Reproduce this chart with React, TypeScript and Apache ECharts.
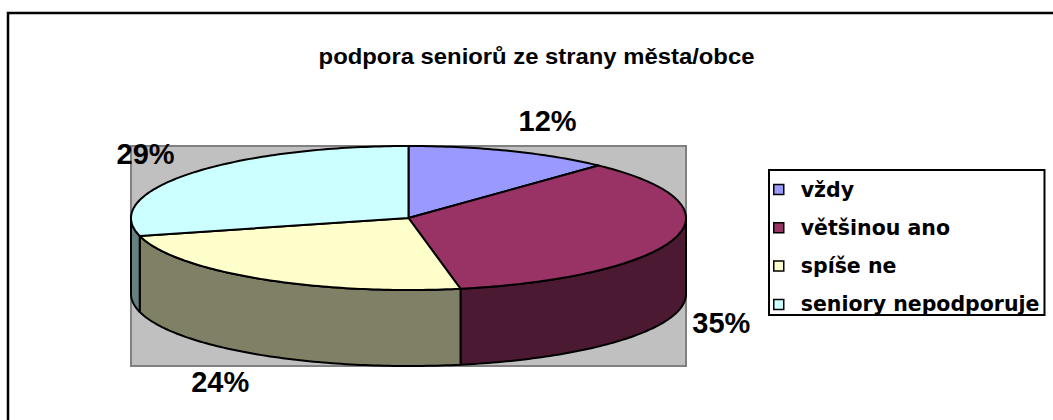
import React, { useEffect, useRef } from "react";
import * as echarts from "echarts";

const titleText = "podpora seniorů ze strany města/obce";
const categories = ["vždy", "většinou ano", "spíše ne", "seniory nepodporuje"];
const values = [12, 35, 24, 29];
const topColors = ["#9999FF", "#993366", "#FFFFCC", "#CCFFFF"];
const sideColors = ["#4C4C80", "#4C1933", "#808066", "#668080"];

// pie geometry (layout, px)
const CX = 408.5;
const CY = 218;
const RX = 277.5;
const RY = 72;
const DEPTH = 76;

const total = values.reduce((a, b) => a + b, 0);

function pt(deg: number, dy = 0): number[] {
  const r = (deg * Math.PI) / 180;
  return [CX + RX * Math.sin(r), CY - RY * Math.cos(r) + dy];
}

function arc(from: number, to: number, dy: number): number[][] {
  const n = Math.max(2, Math.ceil(to - from));
  const pts: number[][] = [];
  for (let k = 0; k <= n; k++) pts.push(pt(from + ((to - from) * k) / n, dy));
  return pts;
}

function renderSlice(i: number) {
  return (_params: any, _api: any) => {
    let start = 0;
    for (let j = 0; j < i; j++) start += values[j];
    const a0 = (start / total) * 360;
    const a1 = ((start + values[i]) / total) * 360;
    const children: any[] = [];
    const f0 = Math.max(a0, 90);
    const f1 = Math.min(a1, 270);
    if (f1 > f0) {
      const top = arc(f0, f1, 0);
      const bot = arc(f0, f1, DEPTH).reverse();
      children.push({
        type: "polygon",
        z2: 1,
        shape: { points: top.concat(bot) },
        style: { fill: sideColors[i], stroke: "#000", lineWidth: 2, lineJoin: "round" },
      });
    }
    children.push({
      type: "polygon",
      z2: 2,
      shape: { points: [[CX, CY]].concat(arc(a0, a1, 0)) },
      style: { fill: topColors[i], stroke: "#000", lineWidth: 2, lineJoin: "round" },
    });
    // label
    const mid = (a0 + a1) / 2;
    const r = (mid * Math.PI) / 180;
    const s = Math.sin(r);
    const c = Math.cos(r);
    const edge = pt(mid, c < 0 ? DEPTH : 0);
    const lx = edge[0] + 16 * s + 31 * Math.sign(s);
    const ly = edge[1] - 32 * c;
    children.push({
      type: "text",
      z2: 3,
      style: {
        text: Math.round((values[i] / total) * 100) + "%",
        x: lx,
        y: ly,
        align: "center",
        verticalAlign: "middle",
        fill: "#000",
        fontSize: 29,
        fontWeight: "bold",
        fontFamily: '"Liberation Sans", Arial, sans-serif',
      },
    });
    return { type: "group", children };
  };
}

export default function App() {
  const ref = useRef<HTMLDivElement>(null);
  useEffect(() => {
    if (!ref.current) return;
    const chart = echarts.init(ref.current, null, { renderer: "svg" });
    chart.setOption({
      animation: false,
      backgroundColor: "#fff",
      legend: {
        orient: "vertical",
        left: 769,
        top: 170,
        data: categories,
        icon: "rect",
        itemWidth: 10,
        itemHeight: 10,
        itemGap: 17.3,
        padding: [9, 5, 0, 4],
        borderColor: "#000",
        borderWidth: 2,
        backgroundColor: "#fff",
        selectedMode: false,
        itemStyle: { borderColor: "#000", borderWidth: 1.5 },
        textStyle: {
          color: "#000",
          fontSize: 20.5,
          fontWeight: "bold",
          fontFamily: '"DejaVu Sans", sans-serif',
          padding: [0, 0, 0, 12],
        },
      },
      graphic: [
        {
          type: "rect",
          z: 0,
          silent: true,
          shape: { x: 8, y: 13, width: 1100, height: 500 },
          style: { fill: "none", stroke: "#000", lineWidth: 2.5 },
        },
        {
          type: "rect",
          z: 0,
          silent: true,
          shape: { x: 131, y: 146, width: 555, height: 220 },
          style: { fill: "#C0C0C0", stroke: "#808080", lineWidth: 2 },
        },
        {
          type: "text",
          z: 5,
          x: 536.5,
          y: 56,
          scaleX: 1.06,
          silent: true,
          style: {
            text: titleText,
            x: 0,
            y: 0,
            align: "center",
            verticalAlign: "middle",
            fill: "#000",
            fontSize: 22.5,
            fontWeight: "bold",
            fontFamily: '"Liberation Sans", Arial, sans-serif',
          },
        },
      ],
      series: values.map((v, i) => ({
        type: "custom",
        name: categories[i],
        coordinateSystem: "none",
        z: 2,
        silent: true,
        itemStyle: { color: topColors[i] },
        renderItem: renderSlice(i),
        data: [v],
      })),
    });
    return () => chart.dispose();
  }, []);
  return (
    <div
      ref={ref}
      style={{ position: "fixed", left: 0, top: 0, width: 1053, height: 420 }}
    />
  );
}
